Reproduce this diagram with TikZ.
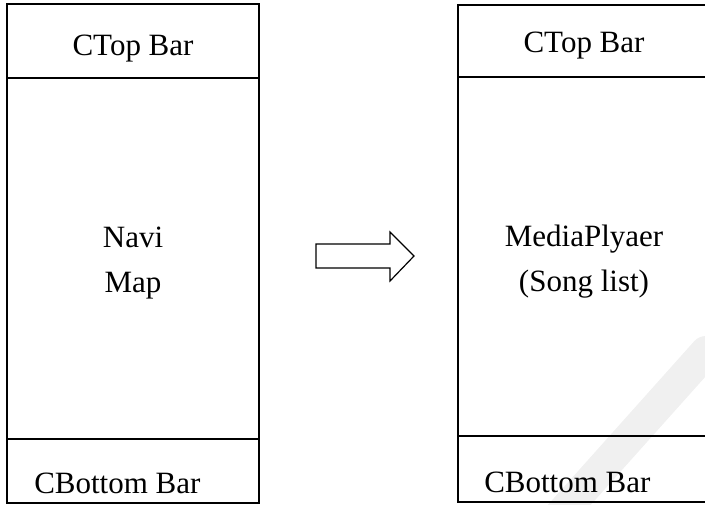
\documentclass[tikz,border=0pt]{standalone}
\usepackage{fontspec}
\setmainfont{Liberation Serif}
\usepackage{tikz}

\tikzset{lbl/.style={anchor=base,font=\fontsize{15.5}{22.5}\selectfont,align=center}}

\begin{document}
\begin{tikzpicture}[x=0.5pt,y=-0.5pt,line width=0.6pt]
\useasboundingbox (0,0) rectangle (705,504);
\draw [line width=16pt,gray!12,line cap=round](706,352)--(520,560);
\draw (7,4) rectangle (259,503);
\draw (7,78) -- (259,78);
\draw (7,439) -- (259,439);
\draw (458,5) rectangle (712,502);
\draw [line width=0.9pt](458,77) -- (712,77);
\draw [line width=0.9pt](458,436) -- (712,436);
\draw (316,244)--(390,244)--(390,232)--(414,256)--(390,281)--(390,268)--(316,268)--cycle;
\node [lbl] (ltop) at (133,55){CTop Bar};
\node [lbl] (lmid) at (133,292){Navi\\Map};
\node [lbl,anchor=base west] (lbot) at (27,493){CBottom Bar};
\node [lbl] (rtop) at (584,52){CTop Bar};
\node [lbl] (rmid) at (584,291){MediaPlyaer\\(Song list)};
\node [lbl,anchor=base west] (rbot) at (477,492){CBottom Bar};
\end{tikzpicture}
\end{document}
